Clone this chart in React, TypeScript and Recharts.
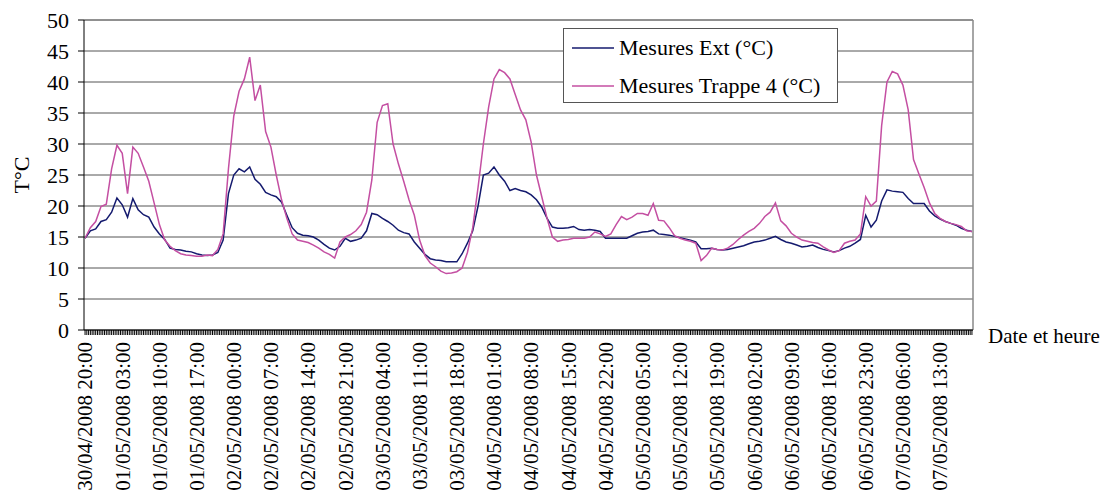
import {
  CartesianGrid,
  Legend,
  Line,
  LineChart,
  ReferenceLine,
  XAxis,
  YAxis,
} from "recharts";

const FONT = "'Liberation Serif', 'Times New Roman', serif";

// hourly readings, starting 30/04/2008 20:00
const mesuresExt = [
  14.8, 16, 16.3, 17.5, 17.8, 19, 21.3, 20.2, 18.2, 21.2, 19.4, 18.6, 18.2, 16.6, 15.5, 14.6,
  13.2, 13, 12.9, 12.7, 12.6, 12.3, 12.1, 12, 12.1, 12.5, 14.5, 22, 25, 26, 25.5, 26.3,
  24.3, 23.5, 22.2, 21.8, 21.5, 20.6, 18.5, 16.5, 15.6, 15.3, 15.2, 15, 14.5, 13.8, 13.2, 12.9,
  13.5, 14.8, 14.3, 14.5, 14.8, 16, 18.8, 18.6, 18, 17.5, 16.9, 16.1, 15.7, 15.5, 14.2, 13.2,
  12.2, 11.5, 11.3, 11.2, 11, 11, 11, 12.3, 14, 16, 20, 25, 25.3, 26.3, 25, 24,
  22.5, 22.8, 22.5, 22.3, 21.8, 21, 19.8, 18, 16.6, 16.4, 16.4, 16.5, 16.7, 16.2, 16.1, 16.2,
  16.1, 15.9, 14.8, 14.8, 14.8, 14.8, 14.8, 15.2, 15.6, 15.8, 15.9, 16.1, 15.5, 15.4, 15.3, 15.1,
  14.9, 14.7, 14.5, 14.2, 13.1, 13.1, 13.2, 13, 12.9, 13, 13.2, 13.4, 13.6, 13.9, 14.2, 14.3,
  14.5, 14.8, 15.1, 14.6, 14.2, 14, 13.7, 13.4, 13.5, 13.7, 13.3, 13, 12.8, 12.6, 12.8, 13.2,
  13.5, 14, 14.6, 18.5, 16.6, 17.7, 20.8, 22.6, 22.4, 22.3, 22.2, 21.2, 20.4, 20.4, 20.4, 19.2,
  18.4, 17.9, 17.5, 17.2, 16.9, 16.4, 16.1, 15.9,
];

const mesuresTrappe4 = [
  14.8, 16.5, 17.5, 19.9, 20.3, 26, 29.8, 28.5, 22, 29.5, 28.5, 26.3, 24, 20.5, 17, 14.5,
  13.5, 12.8, 12.3, 12.1, 12, 11.9, 11.9, 12.1, 12, 13, 15.5, 26, 34.5, 38.5, 40.5, 44,
  37, 39.5, 32, 29.5, 25, 21, 18, 15.5, 14.5, 14.3, 14.1, 13.7, 13.2, 12.6, 12.2, 11.6,
  14.2, 15, 15.4, 16, 17, 19, 24.2, 33.5, 36.2, 36.5, 30, 26.8, 24, 21, 18.5, 14.5,
  12, 10.8, 10.2, 9.5, 9.1, 9.2, 9.4, 10, 12.5, 16.5, 23, 30, 36, 40.5, 42, 41.5,
  40.5, 38, 35.5, 33.9, 30.3, 25, 21.5, 18, 15, 14.3, 14.5, 14.6, 14.8, 14.8, 14.8, 15,
  15.8, 15.5, 15.1, 15.5, 17, 18.3, 17.8, 18.2, 18.8, 18.8, 18.5, 20.4, 17.7, 17.6, 16.5, 15.2,
  14.8, 14.5, 14.3, 14, 11.2, 12, 13.2, 13, 12.9, 13.2, 13.8, 14.6, 15.3, 15.9, 16.4, 17.2,
  18.3, 19, 20.5, 17.6, 16.8, 15.6, 15, 14.5, 14.3, 14.1, 14, 13.4, 12.9, 12.5, 12.8, 14,
  14.3, 14.5, 15.5, 21.5, 20, 20.8, 33, 40, 41.7, 41.3, 39.5, 35.5, 27.5, 25.2, 23, 20.5,
  18.8, 18, 17.5, 17.2, 17, 16.7, 16, 15.9,
];

// one label every 7 hours
const dateLabels = [
  "30/04/2008 20:00", "01/05/2008 03:00", "01/05/2008 10:00", "01/05/2008 17:00",
  "02/05/2008 00:00", "02/05/2008 07:00", "02/05/2008 14:00", "02/05/2008 21:00",
  "03/05/2008 04:00", "03/05/2008 11:00", "03/05/2008 18:00", "04/05/2008 01:00",
  "04/05/2008 08:00", "04/05/2008 15:00", "04/05/2008 22:00", "05/05/2008 05:00",
  "05/05/2008 12:00", "05/05/2008 19:00", "06/05/2008 02:00", "06/05/2008 09:00",
  "06/05/2008 16:00", "06/05/2008 23:00", "07/05/2008 06:00", "07/05/2008 13:00",
];

const yTicks = [0, 5, 10, 15, 20, 25, 30, 35, 40, 45, 50];

const X_MIN = -0.2;
const X_MAX = 167.2;

// minor tick marks every 20 minutes
const xTicks = Array.from({ length: 502 }, (_, i) => i / 3);

const data = mesuresExt.map((v, i) => ({ h: i, ext: v, trappe: mesuresTrappe4[i] }));

const series = [
  { key: "ext", name: "Mesures Ext (°C)", color: "#141a6e" },
  { key: "trappe", name: "Mesures Trappe 4 (°C)", color: "#c44fa2" },
];

function DateTick(props: any) {
  const { x, y, payload } = props;
  const v = payload.value as number;
  const r = Math.round(v);
  if (Math.abs(v - r) > 0.01 || r % 7 !== 0) return <g />;
  const label = dateLabels[r / 7];
  if (!label) return <g />;
  return (
    <text
      x={x}
      y={y}
      transform={`rotate(-90, ${x}, ${y})`}
      textAnchor="end"
      dy="0.35em"
      fontFamily={FONT}
      fontSize={21}
      fill="#000"
    >
      {label}
    </text>
  );
}

function LegendBox() {
  return (
    <div
      style={{
        width: 273,
        height: 73,
        border: "1px solid #555",
        background: "#fff",
        fontFamily: FONT,
        fontSize: 22,
        color: "#000",
      }}
    >
      {series.map((s, i) => (
        <div
          key={s.key}
          style={{ position: "absolute", left: 9, top: i === 0 ? 6 : 44, display: "flex", alignItems: "center", height: 28 }}
        >
          <svg width={42} height={4} style={{ marginRight: 5 }}>
            <line x1={0} y1={2} x2={42} y2={2} stroke={s.color} strokeWidth={1.5} />
          </svg>
          <span style={{ whiteSpace: "nowrap" }}>{s.name}</span>
        </div>
      ))}
    </div>
  );
}

export default function App() {
  return (
    <>
      <style>{`body { margin: 0; background: #fff; }`}</style>
      <LineChart
        width={1109}
        height={491}
        data={data}
        margin={{ top: 20, right: 136, left: 0, bottom: 0 }}
      >
        <CartesianGrid vertical={false} stroke="#555" strokeWidth={1} />
        <XAxis
          dataKey="h"
          type="number"
          domain={[X_MIN, X_MAX]}
          ticks={xTicks}
          interval={0}
          height={161}
          stroke="#000"
          tickSize={5}
          tickMargin={7}
          tick={<DateTick />}
          label={{
            content: (p: any) => {
              const vb = p.viewBox;
              return (
                <text x={vb.x + vb.width + 15} y={vb.y + 13} fontFamily={FONT} fontSize={21} fill="#000">
                  Date et heure
                </text>
              );
            },
          }}
        />
        <YAxis
          type="number"
          domain={[0, 50]}
          ticks={yTicks}
          interval={0}
          width={84}
          stroke="#000"
          tickSize={6}
          tickMargin={9}
          tick={{ fill: "#000", fontFamily: FONT, fontSize: 22 }}
          label={{
            content: (p: any) => {
              const vb = p.viewBox;
              const cx = 21;
              const cy = vb.y + vb.height / 2;
              return (
                <text
                  x={cx}
                  y={cy}
                  transform={`rotate(-90, ${cx}, ${cy})`}
                  textAnchor="middle"
                  dy="0.35em"
                  fontFamily={FONT}
                  fontSize={22}
                  fill="#000"
                >
                  T°C
                </text>
              );
            },
          }}
        />
        <ReferenceLine x={X_MAX} stroke="#888" strokeWidth={1.5} />
        <ReferenceLine y={50} stroke="#888" strokeWidth={1.5} />
        <Legend
          layout="vertical"
          align="center"
          verticalAlign="middle"
          content={<LegendBox />}
          wrapperStyle={{ left: 563, top: 28, width: 275, height: 75 }}
        />
        {series.map((s) => (
          <Line
            key={s.key}
            dataKey={s.key}
            name={s.name}
            type="linear"
            stroke={s.color}
            strokeWidth={1.5}
            dot={false}
            activeDot={false}
            isAnimationActive={false}
          />
        ))}
      </LineChart>
    </>
  );
}
